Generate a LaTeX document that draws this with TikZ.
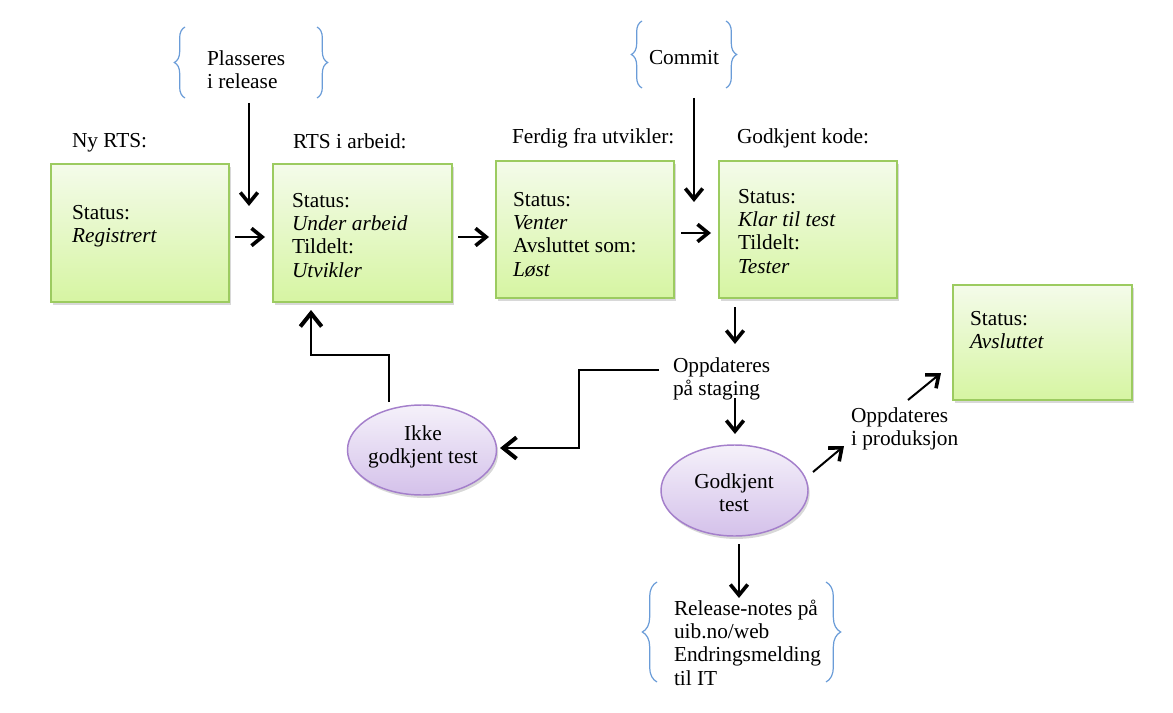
\documentclass[tikz,border=0pt]{standalone}
\usepackage{fontspec}
\setmainfont{Liberation Serif}
\usetikzlibrary{arrows.meta,shadows,decorations.pathreplacing,shapes.geometric}
\definecolor{boxtop}{HTML}{F4FBEA}
\definecolor{boxbot}{HTML}{D6F5A2}
\definecolor{boxedge}{HTML}{9CCB60}
\definecolor{elltop}{HTML}{F5F1FA}
\definecolor{ellbot}{HTML}{D4C1EA}
\definecolor{elledge}{HTML}{A47FCB}
\definecolor{bracecol}{HTML}{6A9CD8}
\begin{document}
\begin{tikzpicture}[x=0.75pt,y=-0.75pt,
  every node/.style={font=\fontsize{16}{17.6}\selectfont, inner sep=0pt, outer sep=0pt},
  txt/.style={align=left, anchor=north west},
  ctxt/.style={align=center, anchor=north},
  head/.style={anchor=base west},
  box/.style={rectangle, draw=boxedge, line width=1.1pt, top color=boxtop, bottom color=boxbot,
    drop shadow={shadow xshift=1.3pt, shadow yshift=-2.2pt, opacity=0.3}},
  oval/.style={ellipse, draw=elledge, line width=1.1pt, top color=elltop, bottom color=ellbot,
    drop shadow={shadow xshift=1.3pt, shadow yshift=-2.2pt, opacity=0.3}},
  arr/.style={line width=1.5pt, -{Straight Barb[length=8pt,width=13pt,line width=2.7pt]}},
  thinarr/.style={line width=1.1pt, -{Straight Barb[length=8pt,width=13pt,line width=2.7pt]}},
  elbow/.style={line width=1.9pt, -{Straight Barb[length=10pt,width=16pt,line width=3pt]}},
  bracel/.style={draw=bracecol, line width=0.9pt, decorate, decoration={brace, amplitude=8pt}},
  bracebig/.style={draw=bracecol, line width=0.9pt, decorate, decoration={brace, amplitude=11pt}}
]
\useasboundingbox (0,0) rectangle (1173,713);
\fill[white] (0,0) rectangle (1173,713);

% boxes
\node[box, minimum width=133.5pt, minimum height=103.5pt] (b1) at (140,233) {};
\node[box, minimum width=134.25pt, minimum height=103.5pt] (b2) at (362.5,233) {};
\node[box, minimum width=133.5pt, minimum height=102.75pt] (b3) at (585,229.5) {};
\node[box, minimum width=133.5pt, minimum height=102.75pt] (b4) at (808,229.5) {};
\node[box, minimum width=134.25pt, minimum height=86.25pt] (b5) at (1042.5,342.5) {};

% headings
\node[head] (h1) at (72,147) {Ny RTS:};
\node[head] (h2) at (293,148) {RTS i arbeid:};
\node[head] (h3) at (512,143) {Ferdig fra utvikler:};
\node[head] (h4) at (737,143) {Godkjent kode:};

% box contents
\node[txt] (t1) at (72,202.6) {\strut Status:\\\textit{Registrert}};
\node[txt] (t2) at (292,190.6) {\strut Status:\\\textit{Under arbeid}\\Tildelt:\\\textit{Utvikler}};
\node[txt] (t3) at (513,189.6) {\strut Status:\\\textit{Venter}\\Avsluttet som:\\\textit{Løst}};
\node[txt] (t4) at (738,186.6) {\strut Status:\\\textit{Klar til test}\\Tildelt:\\\textit{Tester}};
\node[txt] (t5) at (970,308.6) {\strut Status:\\\textit{Avsluttet}};

% ellipses
\node[oval, minimum width=111.75pt, minimum height=67.5pt] (ikke) at (422,450) {};
\node[ctxt] (ikket) at (423,423.6) {\strut Ikke\\godkjent test};
\node[oval, minimum width=110.25pt, minimum height=68.25pt] (godk) at (734.5,490.5) {};
\node[ctxt] (godkt) at (734,471.6) {\strut Godkjent\\test};

% free texts
\node[txt] (plass) at (207,48.6) {\strut Plasseres\\i release};
\node[head] (commit) at (649,65) {Commit};
\node[txt] (staging) at (673,355.6) {\strut Oppdateres\\på staging};
\node[txt] (prod) at (851,405.6) {\strut Oppdateres\\i produksjon};
\node[txt] (notes) at (674,598.6) {\strut Release-notes på\\uib.no/web\\Endringsmelding\\til IT};

% braces
\draw[bracel] (185,98) -- (185,27);
\draw[bracel] (317,27) -- (317,98);
\draw[bracel] (642,88) -- (642,21);
\draw[bracel] (726,21) -- (726,88);
\draw[bracebig] (657,682) -- (657,582);
\draw[bracebig] (826,582) -- (826,682);

% connector end points
\coordinate (p1) at (249,103);  \coordinate (p2) at (249,206);
\coordinate (c1) at (694,98);   \coordinate (c2) at (694,202);
\coordinate (a1) at (235,237);  \coordinate (a2) at (265,237);
\coordinate (a3) at (458,237);  \coordinate (a4) at (489,237);
\coordinate (a5) at (681,233);  \coordinate (a6) at (711,233);
\coordinate (s1) at (735,307);  \coordinate (s2) at (735,344);
\coordinate (s3) at (735,398);  \coordinate (s4) at (735,434);
\coordinate (l1) at (659,370);  \coordinate (l2) at (579,370);
\coordinate (l3) at (579,448);  \coordinate (l4) at (500,448);
\coordinate (u1) at (389,402);  \coordinate (u2) at (389,355);
\coordinate (u3) at (311,355);  \coordinate (u4) at (311,310);
\coordinate (d1) at (813,472);  \coordinate (d2) at (844,446);
\coordinate (d3) at (908,400);  \coordinate (d4) at (941,373);
\coordinate (g1) at (739,544);  \coordinate (g2) at (739,598);

% connectors
\draw[thinarr] (p1) -- (p2);
\draw[thinarr] (c1) -- (c2);
\draw[arr] (a1) -- (a2);
\draw[arr] (a3) -- (a4);
\draw[arr] (a5) -- (a6);
\draw[arr] (s1) -- (s2);
\draw[arr] (s3) -- (s4);
\draw[elbow] (l1) -- (l2) -- (l3) -- (l4);
\draw[elbow] (u1) -- (u2) -- (u3) -- (u4);
\draw[arr] (d1) -- (d2);
\draw[arr] (d3) -- (d4);
\draw[thinarr] (g1) -- (g2);
\end{tikzpicture}
\end{document}
